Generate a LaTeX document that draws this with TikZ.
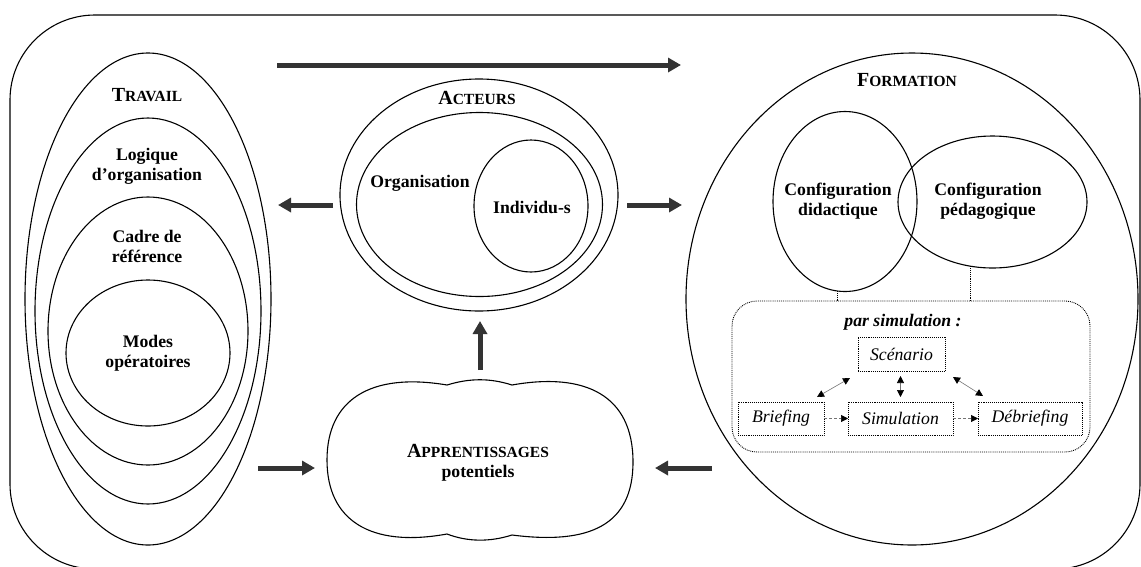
\documentclass[tikz,border=0pt]{standalone}
\usepackage{fontspec}
\setmainfont{Liberation Serif}
\usetikzlibrary{shapes.geometric,arrows.meta,calc}
\newcommand\myscap[2]{#1{\fontsize{15.5}{18}\selectfont #2}}
\begin{document}
\begin{tikzpicture}[x=1pt,y=-1pt,
 shapeline/.style={draw=black,line width=1.1pt},
 ell/.style={shapeline,ellipse,inner sep=0pt,outer sep=0pt},
 lbl/.style={font=\fontsize{17.7}{20}\selectfont\bfseries,align=center,inner sep=0pt},
 ttl/.style={font=\fontsize{20}{22}\selectfont\bfseries,inner sep=0pt},
 itl/.style={font=\fontsize{17.7}{20}\selectfont\itshape},
 bigarrow/.style={draw=black!80,line width=5pt,-{Triangle[length=13pt,width=14pt]}},
 dotbox/.style={draw,densely dotted,line width=0.9pt,inner sep=0pt,outer sep=0pt},
 dotline/.style={draw,densely dotted,line width=0.9pt},
 smallarrow/.style={draw=black!55,densely dashed,line width=0.6pt,-{Triangle[length=7pt,width=7pt,color=black]}},
 dblarrow/.style={draw=black!55,line width=0.6pt,{Triangle[length=7pt,width=7pt,color=black]}-{Triangle[length=7pt,width=7pt,color=black]}},
]
\useasboundingbox (0,0) rectangle (1141,566);
% frame
\node[shapeline,rounded corners=85pt,minimum width=1130pt,minimum height=554pt,inner sep=0pt,outer sep=0pt] (frame) at (575,292) {};

% TRAVAIL
\node[ell,minimum width=246pt,minimum height=492pt] (travail) at (148,299) {};
\node[ell,minimum width=226pt,minimum height=386pt] (logique) at (148,311) {};
\node[ell,minimum width=200pt,minimum height=268pt] (cadre) at (148,331) {};
\node[ell,minimum width=164pt,minimum height=146pt] (modes) at (148,353) {};
\node[ttl] (ttravail) at (147,95) {\myscap{T}{RAVAIL}};
\node[lbl] (tlogique) at (147,166) {Logique\\d’organisation};
\node[lbl] (tcadre) at (147,246) {Cadre de\\référence};
\node[lbl] (tmodes) at (148,353) {Modes\\opératoires};

% ACTEURS
\node[ell,minimum width=278pt,minimum height=232pt] (acteurs) at (479,195) {};
\node[ell,minimum width=246pt,minimum height=184pt] (organisation) at (479.5,204.5) {};
\node[ell,minimum width=114pt,minimum height=132pt] (individu) at (531,206) {};
\node[ttl] (tacteurs) at (477,98) {\myscap{A}{CTEURS}};
\node[lbl] (torg) at (420,183) {Organisation};
\node[lbl] (tind) at (532,207) {Individu-s};

% APPRENTISSAGES cloud
\draw[shapeline] (447,385) .. controls (470,378) and (490,378) .. (512,385)
 .. controls (585,372) and (633,395) .. (633,462)
 .. controls (633,525) and (590,545) .. (512,535)
 .. controls (490,542) and (468,542) .. (447,534)
 .. controls (370,548) and (327,520) .. (327,460)
 .. controls (327,400) and (370,372) .. (447,385) -- cycle;
\node[lbl] (tappr) at (478,463) {\fontsize{20}{22}\selectfont\myscap{A}{PPRENTISSAGES}\\potentiels};

% FORMATION
\node[ell,minimum width=452pt,minimum height=492pt] (formation) at (912,299) {};
\node[ell,minimum width=144pt,minimum height=180pt] (didac) at (845,201.5) {};
\node[ell,minimum width=189pt,minimum height=132pt] (peda) at (992.5,202) {};
\node[ttl] (tformation) at (907,80) {\myscap{F}{ORMATION}};
\node[lbl] (tdidac) at (838,201) {Configuration\\didactique};
\node[lbl] (tpeda) at (988,201) {Configuration\\pédagogique};

% simulation box
\node[dotbox,rounded corners=25pt,minimum width=358pt,minimum height=151pt] (simbox) at (911,376.5) {};
\draw[dotline] (didac.265) -- (didac.265 |- simbox.north);
\draw[dotline] (peda.251) -- (peda.251 |- simbox.north);
\node[font=\fontsize{17.7}{20}\selectfont\bfseries\itshape,inner sep=0pt] (tpar) at (903,322) {par simulation :};
\node[dotbox,itl,minimum width=87pt,minimum height=34pt] (scen) at (901.5,354) {Scénario};
\node[dotbox,itl,minimum width=86pt,minimum height=33pt] (brief) at (781,418.5) {Briefing};
\node[dotbox,itl,minimum width=105pt,minimum height=33pt] (sim) at (900.5,418.5) {Simulation};
\node[dotbox,itl,minimum width=104pt,minimum height=33pt] (debr) at (1030,418.5) {Débriefing};
\draw[smallarrow] (brief.east) -- (sim.west);
\draw[smallarrow] (sim.east) -- (debr.west);
\draw[dblarrow] ($(scen.south west)+(-8,7)$) -- ($(brief.north east)+(-7,-5)$);
\draw[dblarrow] ($(scen.south)+(-1,5)$) -- ($(sim.north)+(0,-5)$);
\draw[dblarrow] ($(scen.south east)+(8,6)$) -- ($(debr.north west)+(5,-6)$);

% big arrows
\coordinate (a1s) at (277,65); \coordinate (a1e) at (681,65);
\coordinate (a2s) at (333,205); \coordinate (a2e) at (278,205);
\coordinate (a3s) at (627,205); \coordinate (a3e) at (682,205);
\coordinate (a4s) at (480,370); \coordinate (a4e) at (480,321);
\coordinate (a5s) at (258,468); \coordinate (a5e) at (315,468);
\coordinate (a6s) at (712,468); \coordinate (a6e) at (655,468);
\draw[bigarrow] (a1s) -- (a1e);
\draw[bigarrow] (a2s) -- (a2e);
\draw[bigarrow] (a3s) -- (a3e);
\draw[bigarrow] (a4s) -- (a4e);
\draw[bigarrow] (a5s) -- (a5e);
\draw[bigarrow] (a6s) -- (a6e);
\end{tikzpicture}
\end{document}
